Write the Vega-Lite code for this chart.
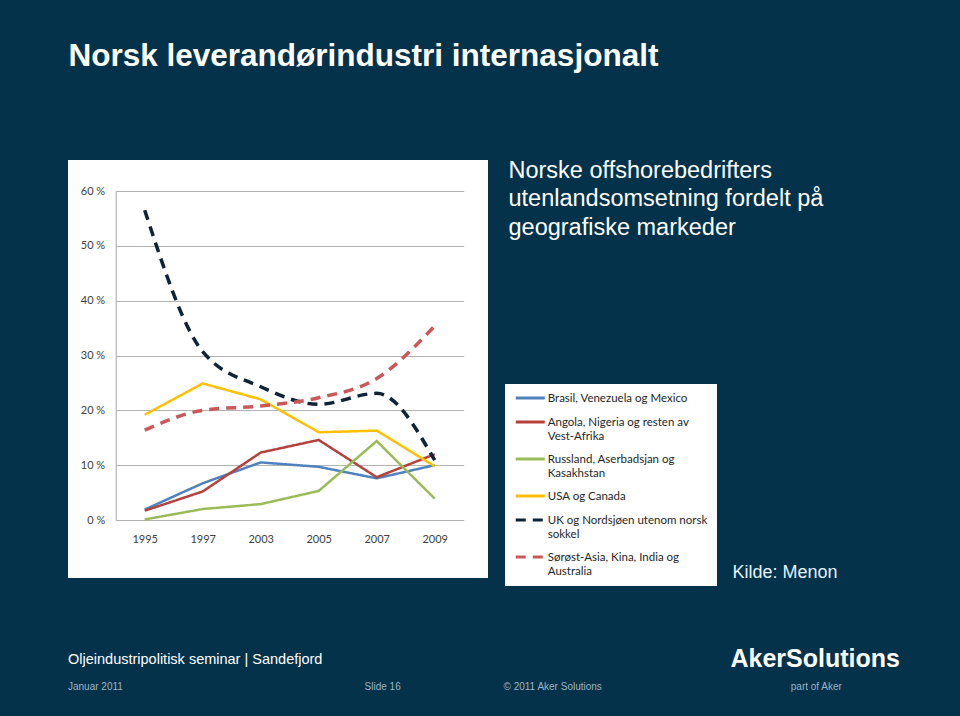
{
  "$schema": "https://vega.github.io/schema/vega-lite/v6.json",
  "width": 420,
  "height": 418,
  "autosize": {"type": "none"},
  "padding": {"left": 68, "top": 160, "right": 472, "bottom": 138},
  "background": "#04324a",
  "title": {
    "text": "Oljeindustripolitisk seminar | Sandefjord",
    "subtitle": "Januar 2011\u00a0\u00a0\u00a0\u00a0\u00a0\u00a0\u00a0\u00a0\u00a0\u00a0\u00a0\u00a0\u00a0\u00a0\u00a0\u00a0\u00a0\u00a0\u00a0\u00a0\u00a0\u00a0\u00a0\u00a0\u00a0\u00a0\u00a0\u00a0\u00a0\u00a0\u00a0\u00a0\u00a0\u00a0\u00a0\u00a0\u00a0\u00a0\u00a0\u00a0\u00a0\u00a0\u00a0\u00a0\u00a0\u00a0\u00a0\u00a0\u00a0\u00a0\u00a0\u00a0\u00a0\u00a0\u00a0\u00a0\u00a0\u00a0\u00a0\u00a0\u00a0\u00a0\u00a0\u00a0\u00a0\u00a0\u00a0\u00a0\u00a0\u00a0\u00a0\u00a0\u00a0\u00a0\u00a0\u00a0\u00a0\u00a0\u00a0\u00a0\u00a0\u00a0\u00a0\u00a0\u00a0\u00a0\u00a0Slide 16\u00a0\u00a0\u00a0\u00a0\u00a0\u00a0\u00a0\u00a0\u00a0\u00a0\u00a0\u00a0\u00a0\u00a0\u00a0\u00a0\u00a0\u00a0\u00a0\u00a0\u00a0\u00a0\u00a0\u00a0\u00a0\u00a0\u00a0\u00a0\u00a0\u00a0\u00a0\u00a0\u00a0\u00a0\u00a0\u00a0\u00a0© 2011 Aker Solutions\u00a0\u00a0\u00a0\u00a0\u00a0\u00a0\u00a0\u00a0\u00a0\u00a0\u00a0\u00a0\u00a0\u00a0\u00a0\u00a0\u00a0\u00a0\u00a0\u00a0\u00a0\u00a0\u00a0\u00a0\u00a0\u00a0\u00a0\u00a0\u00a0\u00a0\u00a0\u00a0\u00a0\u00a0\u00a0\u00a0\u00a0\u00a0\u00a0\u00a0\u00a0\u00a0\u00a0\u00a0\u00a0\u00a0\u00a0\u00a0\u00a0\u00a0\u00a0\u00a0\u00a0\u00a0\u00a0\u00a0\u00a0\u00a0\u00a0\u00a0\u00a0\u00a0\u00a0\u00a0\u00a0\u00a0\u00a0\u00a0part of Aker",
    "orient": "bottom",
    "anchor": "start",
    "frame": "group",
    "baseline": "top",
    "offset": -18,
    "font": "Liberation Sans",
    "fontSize": 14.5,
    "fontWeight": "normal",
    "color": "#ffffff",
    "subtitleFont": "Liberation Sans",
    "subtitleFontSize": 10,
    "subtitleColor": "#9db4c4",
    "subtitlePadding": 14
  },
  "data": {
    "values": [
      {"year": "1995", "series": "Brasil, Venezuela og Mexico", "value": 1.9},
      {"year": "1997", "series": "Brasil, Venezuela og Mexico", "value": 6.7},
      {"year": "2003", "series": "Brasil, Venezuela og Mexico", "value": 10.5},
      {"year": "2005", "series": "Brasil, Venezuela og Mexico", "value": 9.7},
      {"year": "2007", "series": "Brasil, Venezuela og Mexico", "value": 7.6},
      {"year": "2009", "series": "Brasil, Venezuela og Mexico", "value": 10.0},
      {"year": "1995", "series": "Angola, Nigeria og resten av Vest-Afrika", "value": 1.7},
      {"year": "1997", "series": "Angola, Nigeria og resten av Vest-Afrika", "value": 5.2},
      {"year": "2003", "series": "Angola, Nigeria og resten av Vest-Afrika", "value": 12.3},
      {"year": "2005", "series": "Angola, Nigeria og resten av Vest-Afrika", "value": 14.6},
      {"year": "2007", "series": "Angola, Nigeria og resten av Vest-Afrika", "value": 7.8},
      {"year": "2009", "series": "Angola, Nigeria og resten av Vest-Afrika", "value": 12.0},
      {"year": "1995", "series": "Russland, Aserbadsjan og Kasakhstan", "value": 0.1},
      {"year": "1997", "series": "Russland, Aserbadsjan og Kasakhstan", "value": 2.0},
      {"year": "2003", "series": "Russland, Aserbadsjan og Kasakhstan", "value": 2.9},
      {"year": "2005", "series": "Russland, Aserbadsjan og Kasakhstan", "value": 5.3},
      {"year": "2007", "series": "Russland, Aserbadsjan og Kasakhstan", "value": 14.4},
      {"year": "2009", "series": "Russland, Aserbadsjan og Kasakhstan", "value": 3.9},
      {"year": "1995", "series": "USA og Canada", "value": 19.2},
      {"year": "1997", "series": "USA og Canada", "value": 24.9},
      {"year": "2003", "series": "USA og Canada", "value": 22.0},
      {"year": "2005", "series": "USA og Canada", "value": 16.0},
      {"year": "2007", "series": "USA og Canada", "value": 16.3},
      {"year": "2009", "series": "USA og Canada", "value": 9.8},
      {"year": "1995", "series": "UK og Nordsjøen utenom norsk sokkel", "value": 56.5},
      {"year": "1997", "series": "UK og Nordsjøen utenom norsk sokkel", "value": 30.7},
      {"year": "2003", "series": "UK og Nordsjøen utenom norsk sokkel", "value": 24.3},
      {"year": "2005", "series": "UK og Nordsjøen utenom norsk sokkel", "value": 21.1},
      {"year": "2007", "series": "UK og Nordsjøen utenom norsk sokkel", "value": 23.1},
      {"year": "2009", "series": "UK og Nordsjøen utenom norsk sokkel", "value": 10.9},
      {"year": "1995", "series": "Sørøst-Asia, Kina, India og Australia", "value": 16.4},
      {"year": "1997", "series": "Sørøst-Asia, Kina, India og Australia", "value": 20.0},
      {"year": "2003", "series": "Sørøst-Asia, Kina, India og Australia", "value": 20.8},
      {"year": "2005", "series": "Sørøst-Asia, Kina, India og Australia", "value": 22.3},
      {"year": "2007", "series": "Sørøst-Asia, Kina, India og Australia", "value": 25.8},
      {"year": "2009", "series": "Sørøst-Asia, Kina, India og Australia", "value": 35.4}
    ]
  },
  "layer": [
    {
      "transform": [{"filter": {"not": {"field": "series", "oneOf": ["UK og Nordsjøen utenom norsk sokkel", "Sørøst-Asia, Kina, India og Australia"]}}}],
      "mark": {"type": "line", "strokeWidth": 2.5},
      "encoding": {
        "x": {
          "field": "year", "type": "ordinal",
          "scale": {"type": "point", "domain": ["1995", "1997", "2003", "2005", "2007", "2009"], "range": [47.7, 395.7], "padding": 0.5},
          "axis": {
            "orient": "bottom", "offset": -58, "domain": false, "ticks": false, "grid": false,
            "labelAngle": 0, "labelPadding": 13, "labelFont": "Lato", "labelFontSize": 11, "labelColor": "#404040",
            "title": "Kilde: Menon", "titleX": 664, "titleY": 57, "titleAlign": "left", "titleBaseline": "alphabetic",
            "titleFont": "Liberation Sans", "titleFontSize": 18, "titleFontWeight": "normal", "titleColor": "#e4f3fa"
          }
        },
        "y": {
          "field": "value", "type": "quantitative",
          "scale": {"domain": [0, 60], "range": [360, 31], "nice": false},
          "axis": {
            "orient": "left", "offset": -47.7, "values": [0, 10, 20, 30, 40, 50, 60],
            "labelExpr": "datum.value + ' %'",
            "grid": true, "gridColor": "#b3b3b3", "gridWidth": 1,
            "domain": true, "domainColor": "#a6a6a6", "ticks": false,
            "labelPadding": 11, "labelFont": "Lato", "labelFontSize": 11, "labelColor": "#404040",
            "title": ["Norske offshorebedrifters", "utenlandsomsetning fordelt på", "geografiske markeder"],
            "titleX": 392.3, "titleY": 17, "titleAngle": 0, "titleAlign": "left", "titleBaseline": "alphabetic",
            "titleFont": "Liberation Sans", "titleFontSize": 23.5, "titleFontWeight": "normal", "titleColor": "#ffffff",
            "titleLineHeight": 28.5
          }
        },
        "color": {
          "field": "series", "type": "nominal",
          "scale": {
            "domain": ["Brasil, Venezuela og Mexico", "Angola, Nigeria og resten av Vest-Afrika", "Russland, Aserbadsjan og Kasakhstan", "USA og Canada", "UK og Nordsjøen utenom norsk sokkel", "Sørøst-Asia, Kina, India og Australia"],
            "range": ["#4F81BD", "#B5403D", "#9BBB59", "#FFC000", "#0F2236", "#CB5859"]
          },
          "legend": {
            "orient": "none", "legendX": 437, "legendY": 224, "title": null,
            "labelExpr": "datum.label == 'Angola, Nigeria og resten av Vest-Afrika' ? ['Angola, Nigeria og resten av', 'Vest-Afrika'] : datum.label == 'Russland, Aserbadsjan og Kasakhstan' ? ['Russland, Aserbadsjan og', 'Kasakhstan'] : datum.label == 'UK og Nordsjøen utenom norsk sokkel' ? ['UK og Nordsjøen utenom norsk', 'sokkel'] : datum.label == 'Sørøst-Asia, Kina, India og Australia' ? ['Sørøst-Asia, Kina, India og', 'Australia'] : datum.label"
          }
        },
        "strokeDash": {
          "field": "series", "type": "nominal",
          "scale": {
            "domain": ["Brasil, Venezuela og Mexico", "Angola, Nigeria og resten av Vest-Afrika", "Russland, Aserbadsjan og Kasakhstan", "USA og Canada", "UK og Nordsjøen utenom norsk sokkel", "Sørøst-Asia, Kina, India og Australia"],
            "range": [[1, 0], [1, 0], [1, 0], [1, 0], [10, 7], [10, 7]]
          }
        }
      }
    },
    {
      "transform": [{"filter": {"field": "series", "oneOf": ["UK og Nordsjøen utenom norsk sokkel", "Sørøst-Asia, Kina, India og Australia"]}}],
      "mark": {"type": "line", "strokeWidth": 3.5, "interpolate": "monotone"},
      "encoding": {
        "x": {
          "field": "year", "type": "ordinal",
          "scale": {"type": "point", "domain": ["1995", "1997", "2003", "2005", "2007", "2009"], "range": [47.7, 395.7], "padding": 0.5},
          "axis": {
            "orient": "top", "labels": false, "ticks": false, "domain": false, "grid": false,
            "title": "Norsk leverandørindustri internasjonalt", "titleX": 0, "titleY": -95, "titleAlign": "left", "titleBaseline": "alphabetic",
            "titleFont": "Liberation Sans", "titleFontSize": 31.5, "titleFontWeight": "bold", "titleColor": "#ffffff"
          }
        },
        "y": {
          "field": "value", "type": "quantitative",
          "scale": {"domain": [0, 60], "range": [360, 31], "nice": false},
          "axis": {
            "orient": "right", "labels": false, "ticks": false, "domain": false, "grid": false,
            "title": "AkerSolutions", "titleX": 242, "titleY": 506, "titleAngle": 0, "titleAlign": "left", "titleBaseline": "alphabetic",
            "titleFont": "Liberation Sans", "titleFontSize": 25, "titleFontWeight": "bold", "titleColor": "#ffffff"
          }
        },
        "color": {"field": "series", "type": "nominal"},
        "strokeDash": {"field": "series", "type": "nominal"}
      }
    }
  ],
  "resolve": {"scale": {"x": "independent", "y": "independent"}},
  "config": {
    "view": {"fill": "#ffffff", "stroke": null},
    "legend": {
      "orient": "none", "legendX": 437, "legendY": 224,
      "fillColor": "#ffffff", "padding": 9, "symbolType": "M-2,-0.55H2", "symbolSize": 210.25, "symbolStrokeWidth": 3,
      "symbolOffset": 7.25,
      "labelFont": "Lato", "labelFontSize": 11.5, "labelColor": "#262626", "labelLimit": 300, "labelOffset": 8.5,
      "rowPadding": 11, "labelBaseline": "alphabetic"
    }
  }
}
